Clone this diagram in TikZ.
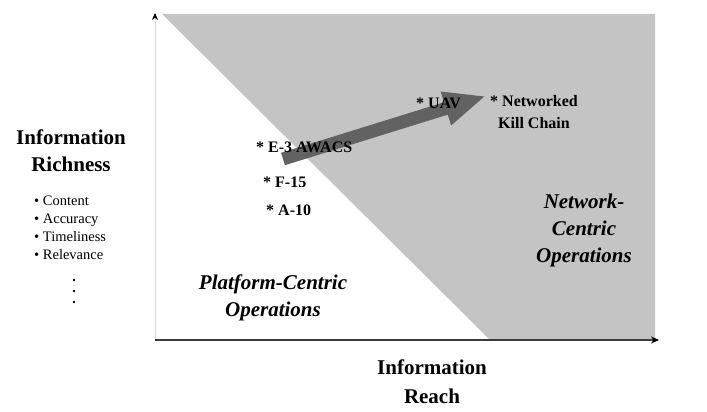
\documentclass[tikz,border=0pt]{standalone}
\usepackage{fontspec}
\setmainfont{Liberation Serif}
\definecolor{regiongray}{RGB}{196,196,196}
\definecolor{arrowgray}{RGB}{98,98,98}
\definecolor{axisgray}{RGB}{60,60,60}
\usepackage{tikz}
\usetikzlibrary{arrows.meta, positioning}

\begin{document}
\begin{tikzpicture}[x=1pt, y=-1pt,
  axislabel/.style={
    align=center, inner sep=0pt,
    font=\fontsize{21}{27}\selectfont\bfseries,
  },
  region/.style={
    align=center, inner sep=0pt,
    font=\fontsize{21}{27}\selectfont\bfseries\itshape,
  },
  system/.style={
    anchor=west, inner sep=0pt,
    font=\fontsize{16}{22}\selectfont\bfseries,
  },
  bigarrow/.style={
    draw=arrowgray, line width=13pt,
    -{Triangle[length=42pt, width=32pt]},
  },
]

\useasboundingbox (0,0) rectangle (707,412);

% --- Network-centric region ---
\fill[regiongray] (162,14) -- (655,14) -- (655,339) -- (489,339) -- cycle;

% --- Axes ---
\coordinate (origin) at (155,340);
\coordinate (ytop) at (155,13);
\coordinate (xend) at (659,340);
\draw[draw=black!15, line width=0.8pt, -{Stealth[black, length=7pt, width=6pt]}] (origin) -- (ytop);
\draw[draw=axisgray, line width=1.6pt, -{Stealth[black, length=8pt, width=7pt]}] (origin) -- (xend);

% --- Axis labels ---
\node[axislabel] (richness) at (71,151) {Information\\Richness};
\node[anchor=north west, inner sep=0pt, align=left,
      font=\fontsize{14.5}{18}\selectfont] (attrs) at (34,196)
      {• Content\\• Accuracy\\• Timeliness\\• Relevance};
\foreach \y in {280,291,302}
  \fill (74,\y) circle (1.4pt);
\node[axislabel, font=\fontsize{21}{29}\selectfont\bfseries] (reach) at (432,382) {Information\\Reach};

% --- Regions ---
\node[region] (network) at (584,230) {Network-\\Centric\\Operations};
\node[region] (platform) at (273,298) {Platform-Centric\\Operations};

% --- Evolution arrow ---
\coordinate (tail) at (283,159);
\coordinate (tip) at (486,96);
\draw[bigarrow] (tail) -- (tip);

% --- Systems ---
\node[system] (awacs) at (256,147) {* E-3 AWACS};
\node[system] (f15) at (263,182) {* F-15};
\node[system] (a10) at (266,210) {* A-10};
\node[system] (uav) at (416,103) {* UAV};
\node[system, anchor=center, align=center] (killchain) at (534,112) {* Networked\\Kill Chain};

\end{tikzpicture}
\end{document}
